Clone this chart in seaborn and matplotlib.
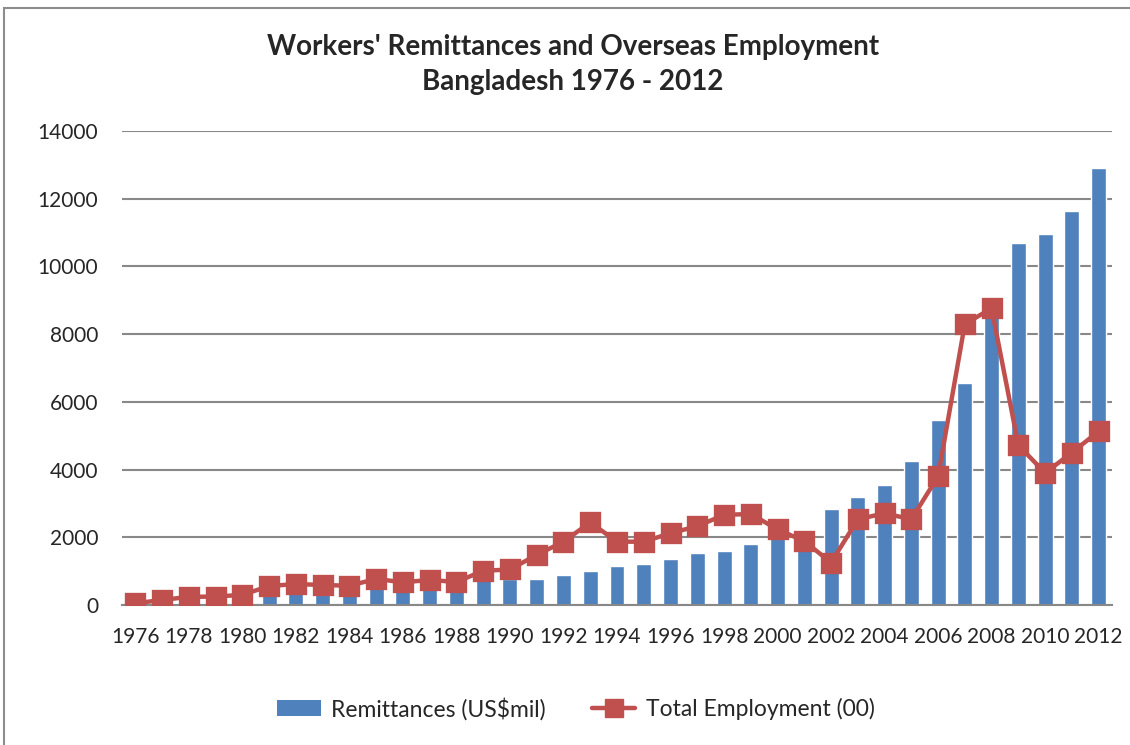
import matplotlib
matplotlib.use("Agg")
import matplotlib.pyplot as plt
import seaborn as sns
import pandas as pd
from matplotlib.patches import Rectangle
from matplotlib.lines import Line2D
from matplotlib.patches import Patch

years = list(range(1976, 2013))
remittances = [20, 80, 110, 170, 300, 380, 490, 530, 500, 500, 500, 580, 760, 740, 760,
               770, 900, 1010, 1160, 1200, 1360, 1525, 1600, 1800, 1970, 1880, 2850,
               3190, 3540, 4250, 5460, 6560, 8600, 10690, 10960, 11640, 12900]
employment = [50, 150, 240, 250, 300, 560, 620, 590, 570, 770, 670, 740, 680, 1010, 1050,
              1480, 1870, 2440, 1870, 1870, 2120, 2330, 2660, 2690, 2230, 1890, 1250,
              2530, 2710, 2530, 3800, 8300, 8760, 4720, 3900, 4500, 5130]
yticks = [0, 2000, 4000, 6000, 8000, 10000, 12000, 14000]

BLUE = "#4F81BD"
RED = "#C0504D"
GRID = "#888888"

sns.set_theme(style="white")
plt.rcParams["font.family"] = ["Lato", "DejaVu Sans"]

df = pd.DataFrame({"year": [str(y) for y in years], "rem": remittances, "emp": employment})

fig = plt.figure(figsize=(11.3, 7.45), dpi=100)
ax = fig.add_axes([122 / 1130, 1 - 605 / 745, (1112 - 122) / 1130, (605 - 131) / 745])

sns.barplot(data=df, x="year", y="rem", color=BLUE, saturation=1, width=0.56, ax=ax, zorder=2)
sns.pointplot(data=df, x="year", y="emp", color=RED, markers="s", linestyles="-",
              markersize=13, linewidth=3.2, ax=ax, zorder=3)

ax.set_xlim(-0.5, len(years) - 0.5)
ax.set_ylim(0, 14000)
ax.set_yticks(yticks)
ax.set_yticklabels([str(v) for v in yticks], fontsize=15)
ax.set_xticks(range(0, len(years), 2))
ax.set_xticklabels([str(y) for y in years[::2]], fontsize=15)
ax.tick_params(axis="y", length=0, pad=17)
ax.tick_params(axis="x", length=0, pad=16)
ax.set_xlabel("")
ax.set_ylabel("")
ax.yaxis.grid(True, color=GRID, linewidth=1.5)
ax.set_axisbelow(True)
for s in ["top", "right", "left"]:
    ax.spines[s].set_visible(False)
ax.spines["bottom"].set_color(GRID)
ax.spines["bottom"].set_linewidth(1.5)

fig.text(573 / 1130, 1 - 47 / 745, "Workers' Remittances and Overseas Employment",
         ha="center", va="center", fontsize=20, fontweight="bold")
fig.text(573 / 1130, 1 - 82 / 745, "Bangladesh 1976 - 2012",
         ha="center", va="center", fontsize=20, fontweight="bold")

handles = [Patch(facecolor=BLUE, edgecolor="none"),
           Line2D([0], [0], color=RED, lw=3.2, marker="s", markersize=13)]
fig.legend(handles, ["Remittances (US$mil)", "Total Employment (00)"],
           loc="center", bbox_to_anchor=(576 / 1130, 1 - 709 / 745), ncol=2,
           frameon=False, fontsize=16.5, handlelength=1.9, handletextpad=0.45,
           columnspacing=2.0)

fig.patches.append(Rectangle((4 / 1130, -0.1), 1.2, 1 - 8 / 745 + 0.1, transform=fig.transFigure,
                             fill=False, edgecolor="#8c8c8c", linewidth=1.5))

fig.savefig("out.png", dpi=100)
